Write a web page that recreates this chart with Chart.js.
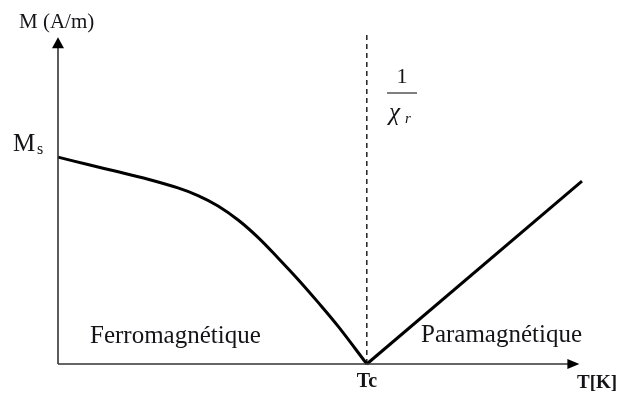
<!DOCTYPE html>
<html lang="fr">
<head>
<meta charset="utf-8">
<title>Aimantation en fonction de la température</title>
<script src="https://cdn.jsdelivr.net/npm/chart.js@4.4.1/dist/chart.umd.min.js"></script>
<style>
    html, body { margin: 0; padding: 0; background: #fff; }
    #wrap { width: 619px; height: 394px; }
</style>
</head>
<body>
<div id="wrap"><canvas id="curieChart" width="619" height="394"></canvas></div>
<script>
// Branche ferromagnétique : M en % de Ms, T en unités arbitraires (Tc = 60)
const ferroTemps = [0, 5.8, 11.7, 17.5, 23.3, 27.2, 31.1, 35.0, 38.9, 42.7, 46.6, 50.5, 54.4, 60];
const ferroValues = [100, 96.4, 92.9, 89.3, 85.1, 81.4, 76.4, 69.6, 61.1, 51.4, 41.0, 29.9, 18.3, 0];

// Branche paramagnétique : droite 1/chi au-dessus de Tc
const paraTemps = [60, 101.8];
const paraValues = [0, 88.4];

// Température de Curie et bornes des axes
const curieTemp = 60;
const tempMax = 102;
const magMax = 160;

document.addEventListener("DOMContentLoaded", () => {
    const toPoints = (xs, ys) => xs.map((x, i) => ({ x: x, y: ys[i] }));

    const serif = '"Liberation Serif", "Times New Roman", serif';
    const ink = "#141418";

    // axes fléchés + annotations
    const annotations = {
        id: "annotations",
        afterDatasetsDraw(chart) {
            const { ctx, scales } = chart;
            const x0 = scales.x.getPixelForValue(0);
            const y0 = scales.y.getPixelForValue(0);
            const xEnd = scales.x.getPixelForValue(101.3);
            const yEnd = scales.y.getPixelForValue(158);

            ctx.save();
            ctx.strokeStyle = "#333";
            ctx.fillStyle = "#000";
            ctx.lineWidth = 1.6;

            // axe vertical
            ctx.beginPath();
            ctx.moveTo(x0, y0);
            ctx.lineTo(x0, yEnd + 8);
            ctx.stroke();
            ctx.beginPath();
            ctx.moveTo(x0, yEnd);
            ctx.lineTo(x0 - 6, yEnd + 11);
            ctx.lineTo(x0 + 6, yEnd + 11);
            ctx.closePath();
            ctx.fill();

            // axe horizontal
            ctx.beginPath();
            ctx.moveTo(x0, y0);
            ctx.lineTo(xEnd - 8, y0);
            ctx.stroke();
            ctx.beginPath();
            ctx.moveTo(xEnd, y0);
            ctx.lineTo(xEnd - 12, y0 - 5);
            ctx.lineTo(xEnd - 12, y0 + 5);
            ctx.closePath();
            ctx.fill();

            ctx.fillStyle = ink;
            ctx.textBaseline = "alphabetic";
            ctx.textAlign = "left";

            ctx.font = "21px " + serif;
            ctx.fillText("M (A/m)", 19, 28);

            ctx.font = "25px " + serif;
            ctx.fillText("M", 13, 151);
            ctx.font = "16px " + serif;
            ctx.fillText("s", 37, 154);

            ctx.font = "25px " + serif;
            ctx.fillText("Ferromagnétique", 90, 343);
            ctx.fillText("Paramagnétique", 421, 342);

            // 1 / chi_r
            ctx.textAlign = "center";
            ctx.font = "22px " + serif;
            ctx.fillText("1", 402, 83);
            ctx.strokeStyle = "#555";
            ctx.lineWidth = 1.5;
            ctx.beginPath();
            ctx.moveTo(387, 93);
            ctx.lineTo(417, 93);
            ctx.stroke();
            ctx.textAlign = "left";
            ctx.font = "italic 25px " + serif;
            ctx.fillText("χ", 389, 120);
            ctx.font = "italic 15px " + serif;
            ctx.fillText("r", 405, 123);

            ctx.font = "bold 20px " + serif;
            ctx.textAlign = "center";
            ctx.fillText("Tc", scales.x.getPixelForValue(curieTemp), 387);
            ctx.textAlign = "left";
            ctx.font = "bold 19px " + serif;
            ctx.fillText("T[K]", 577, 388);

            ctx.restore();
        },
    };

    const ctx = document.getElementById("curieChart").getContext("2d");
    new Chart(ctx, {
        type: "scatter",
        data: {
            datasets: [
                {
                    data: toPoints(ferroTemps, ferroValues),
                    showLine: true,
                    borderColor: "#000",
                    borderWidth: 3,
                    pointRadius: 0,
                    tension: 0.35,
                    clip: false,
                },
                {
                    data: toPoints(paraTemps, paraValues),
                    showLine: true,
                    borderColor: "#000",
                    borderWidth: 3,
                    pointRadius: 0,
                    clip: false,
                },
                {
                    data: [{ x: curieTemp, y: 0 }, { x: curieTemp, y: magMax }],
                    showLine: true,
                    borderColor: "#000",
                    borderWidth: 1.3,
                    borderDash: [5, 4],
                    pointRadius: 0,
                    clip: false,
                },
            ],
        },
        options: {
            responsive: false,
            animation: false,
            layout: { padding: { left: 58, right: 36, top: 33, bottom: 30 } },
            scales: {
                x: { type: "linear", min: 0, max: tempMax, display: false },
                y: { type: "linear", min: 0, max: magMax, display: false },
            },
            plugins: {
                legend: { display: false },
                tooltip: { enabled: false },
            },
        },
        plugins: [annotations],
    });
});
</script>
</body>
</html>
